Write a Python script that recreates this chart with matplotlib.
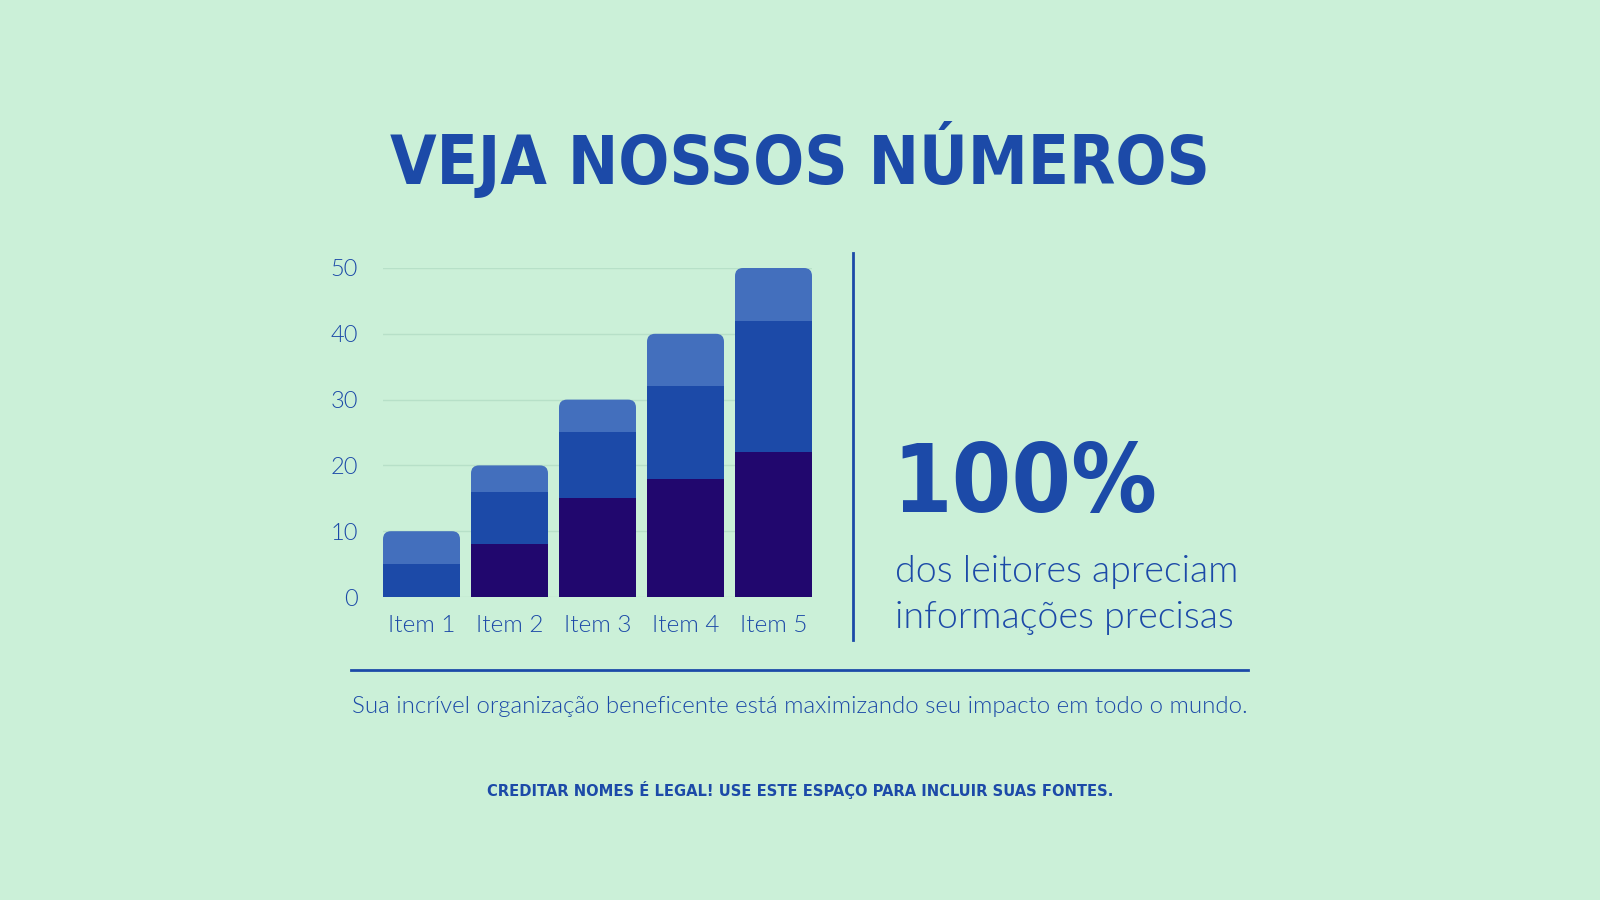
import numpy as np
import matplotlib.pyplot as plt
from matplotlib.patches import FancyBboxPatch

# chart data
items = ['Item 1', 'Item 2', 'Item 3', 'Item 4', 'Item 5']
serie_escura = [0, 8, 15, 18, 22]
serie_media = [5, 8, 10, 14, 20]
serie_clara = [5, 4, 5, 8, 8]
yticks = [0, 10, 20, 30, 40, 50]

bg = '#cbf0d8'
azul = '#1c4aa8'
escuro = '#21076e'
claro = '#436fbd'

W, H = 1600, 900
fig = plt.figure(figsize=(16, 9), dpi=100, facecolor=bg)

def fx(px):
    return px / W

def fy(py):
    return 1 - py / H

narrow = ['DejaVu Sans', 'Liberation Sans']
body = ['Lato', 'DejaVu Sans']
LEVE = 300

# axes placed at bar area
left, right, top, bottom = 383, 812, 268, 597
ax = fig.add_axes([fx(left), fy(bottom), fx(right - left), (bottom - top) / H])
ax.set_facecolor(bg)
width = 0.875
x = np.arange(len(items))
ax.set_xlim(-width / 2, len(items) - 1 + width / 2)
ax.set_ylim(0, 50)

for s in ax.spines.values():
    s.set_visible(False)
ax.set_yticks(yticks)
ax.yaxis.grid(True, color='#b7e0c8', lw=1)
ax.set_axisbelow(True)
ax.tick_params(length=0, colors=azul, labelsize=17, pad=18)
ax.tick_params(axis='x', pad=13, labelsize=17.5)
ax.set_xticks(x)
ax.set_xticklabels(items)
for lab in ax.get_xticklabels() + ax.get_yticklabels():
    lab.set_fontfamily(body)
    lab.set_fontweight(LEVE)
    lab.set_color(azul)

esc = np.array(serie_escura)
med = np.array(serie_media)
cla = np.array(serie_clara)

ax.bar(x, esc, width, color=escuro, zorder=3)
ax.bar(x, med, width, bottom=esc, color=azul, zorder=3)

# top segments with rounded top corners (extend down below the mid segment)
px_x = (right - left) / (len(items) - 1 + width)
px_y = (bottom - top) / 50
aspect = px_x / px_y
r = 8 / px_x
for xi, b, h in zip(x, esc + med, cla):
    p = FancyBboxPatch((xi - width / 2, b - 2), width, h + 2,
                       boxstyle=f'round,pad=0,rounding_size={r}',
                       mutation_aspect=aspect, fc=claro, ec='none',
                       zorder=2.5, clip_on=False)
    ax.add_patch(p)

renderer = fig.canvas.get_renderer()

def fit(t, target_w):
    # scale font so the text spans about the same width as in the reference
    bb = t.get_window_extent(renderer)
    t.set_fontsize(t.get_fontsize() * target_w / bb.width)
    return t

# title
t = fig.text(fx(800), fy(184), 'VEJA NOSSOS NÚMEROS', ha='center', va='baseline',
             fontsize=80, fontweight='bold', fontstretch='condensed',
             family=narrow, color=azul)
fit(t, 820)

# divider lines
fig.add_artist(plt.Line2D([fx(853), fx(853)], [fy(253), fy(640)], color=azul, lw=2))
fig.add_artist(plt.Line2D([fx(351), fx(1248)], [fy(670), fy(670)], color=azul, lw=2))

# big number
t = fig.text(fx(892), fy(512), '100%', ha='left', va='baseline', fontsize=96,
             fontweight='bold', fontstretch='condensed', family=narrow, color=azul)
fit(t, 265)
t = fig.text(fx(895), fy(582), 'dos leitores apreciam', ha='left', va='baseline',
             fontsize=24, family=body, fontweight=LEVE, color=azul)
fit(t, 343)
t = fig.text(fx(895), fy(628), 'informações precisas', ha='left', va='baseline',
             fontsize=t.get_fontsize(), family=body, fontweight=LEVE, color=azul)

t = fig.text(fx(800), fy(713), 'Sua incrível organização beneficente está maximizando seu impacto em todo o mundo.',
             ha='center', va='baseline', fontsize=16, family=body, fontweight=LEVE, color=azul)
fit(t, 897)

t = fig.text(fx(800), fy(796), 'CREDITAR NOMES É LEGAL! USE ESTE ESPAÇO PARA INCLUIR SUAS FONTES.',
             ha='center', va='baseline', fontsize=16, fontweight='bold', fontstretch='condensed',
             family=narrow, color=azul)
fit(t, 630)

fig.savefig('out.png', dpi=100, facecolor=bg)
